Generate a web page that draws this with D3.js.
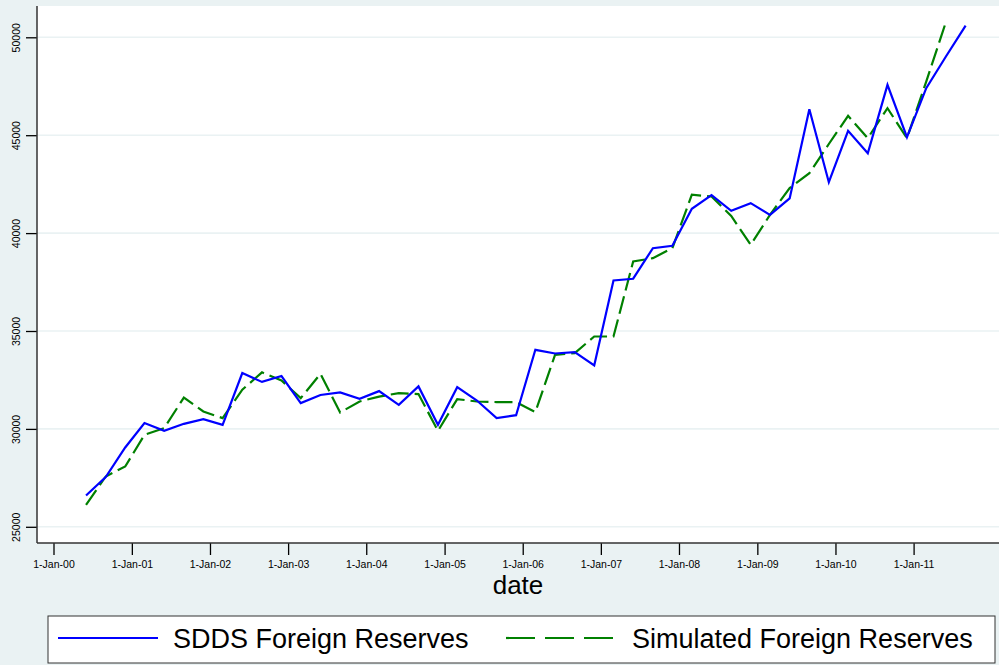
<!DOCTYPE html>
<html>
<head>
<meta charset="utf-8">
<script src="https://cdn.jsdelivr.net/npm/d3@7/dist/d3.min.js"></script>
<style>
  body { margin: 0; background: #eaf2f3; }
  svg { display: block; font-family: "Liberation Sans", Arial, sans-serif; }
</style>
</head>
<body>
<div id="chart"></div>
<script>
// Quarterly observation dates
var dates = ["2000-06-01","2000-09-01","2000-12-01","2001-03-01","2001-06-01","2001-09-01","2001-12-01",
  "2002-03-01","2002-06-01","2002-09-01","2002-12-01","2003-03-01","2003-06-01","2003-09-01","2003-12-01",
  "2004-03-01","2004-06-01","2004-09-01","2004-12-01","2005-03-01","2005-06-01","2005-09-01","2005-12-01",
  "2006-03-01","2006-06-01","2006-09-01","2006-12-01","2007-03-01","2007-06-01","2007-09-01","2007-12-01",
  "2008-03-01","2008-06-01","2008-09-01","2008-12-01","2009-03-01","2009-06-01","2009-09-01","2009-12-01",
  "2010-03-01","2010-06-01","2010-09-01","2010-12-01","2011-03-01","2011-06-01","2011-09-01"];

// SDDS foreign reserves (blue, solid)
var sdds = [26600, 27540, 29050, 30300, 29900, 30260, 30500, 30210, 32850, 32400,
  32700, 31320, 31730, 31860, 31540, 31930, 31230, 32170, 30210, 32130,
  31450, 30550, 30700, 34040, 33850, 33920, 33240, 37580, 37670, 39230,
  39350, 41240, 41940, 41140, 41530, 40930, 41770, 46330, 42600, 45220,
  44080, 47570, 44900, 47400, 49020, 50600];

// Simulated foreign reserves (green, dashed) - one quarter shorter
var simulated = [26120, 27570, 28080, 29700, 30040, 31600, 30890, 30550, 32000, 32890,
  32470, 31570, 32810, 30840, 31400, 31650, 31830, 31780, 29900, 31520,
  31400, 31370, 31370, 30860, 33780, 33870, 34720, 34720, 38550, 38720,
  39230, 41960, 41870, 40880, 39400, 40930, 42300, 43060, 44550, 45990,
  44850, 46380, 44850, 47740, 50780];

var yTicks = [25000, 30000, 35000, 40000, 45000, 50000];
var xTickLabels = ["1-Jan-00","1-Jan-01","1-Jan-02","1-Jan-03","1-Jan-04","1-Jan-05",
  "1-Jan-06","1-Jan-07","1-Jan-08","1-Jan-09","1-Jan-10","1-Jan-11"];
var xTickDates = ["2000-01-01","2001-01-01","2002-01-01","2003-01-01","2004-01-01","2005-01-01",
  "2006-01-01","2007-01-01","2008-01-01","2009-01-01","2010-01-01","2011-01-01"];

var width = 999, height = 665;
var plotLeft = 37, plotRight = 999, plotTop = 6, plotBottom = 543;

var parse = d3.timeParse("%Y-%m-%d");

var svg = d3.select("#chart").append("svg")
  .attr("width", width)
  .attr("height", height);

svg.append("rect")
  .attr("width", width).attr("height", height)
  .attr("fill", "#eaf2f3");

// plot region
svg.append("rect")
  .attr("x", plotLeft).attr("y", plotTop)
  .attr("width", plotRight - plotLeft).attr("height", plotBottom - plotTop)
  .attr("fill", "#ffffff");

var x = d3.scaleTime()
  .domain([parse("2000-01-01"), parse("2011-01-01")])
  .range([53.5, 913.6]);

var y = d3.scaleLinear()
  .domain([25000, 50000])
  .range([526.8, 37.3]);

// gridlines
svg.append("g").selectAll("line")
  .data(yTicks)
  .enter().append("line")
  .attr("x1", plotLeft).attr("x2", plotRight)
  .attr("y1", function(d) { return y(d); })
  .attr("y2", function(d) { return y(d); })
  .attr("stroke", "#eaf2f3")
  .attr("stroke-width", 1.6);

// y axis
var yAxis = svg.append("g")
  .attr("transform", "translate(" + plotLeft + ",0)")
  .call(d3.axisLeft(y).tickValues(yTicks).tickSize(11).tickFormat(d3.format("d")));
yAxis.select(".domain").remove();
yAxis.selectAll(".tick line").attr("stroke", "#000").attr("stroke-width", 1.3);
yAxis.selectAll(".tick text")
  .attr("transform", "rotate(-90)")
  .attr("x", 0).attr("y", -17.5)
  .attr("dy", 0)
  .attr("text-anchor", "middle")
  .attr("fill", "#000")
  .style("font-size", "10.5px")
  .style("font-family", "'Liberation Sans', Arial, sans-serif");

// x axis
var xAxis = svg.append("g")
  .attr("transform", "translate(0," + plotBottom + ")")
  .call(d3.axisBottom(x)
    .tickValues(xTickDates.map(parse))
    .tickSize(12)
    .tickFormat(function(d, i) { return xTickLabels[i]; }));
xAxis.select(".domain").remove();
xAxis.selectAll(".tick line").attr("stroke", "#000").attr("stroke-width", 1.3);
xAxis.selectAll(".tick text")
  .attr("y", 25).attr("dy", 0)
  .attr("fill", "#000")
  .style("font-size", "10.5px")
  .style("font-family", "'Liberation Sans', Arial, sans-serif");

// axis lines
svg.append("line")
  .attr("x1", plotLeft).attr("x2", plotLeft)
  .attr("y1", plotTop).attr("y2", plotBottom)
  .attr("stroke", "#333").attr("stroke-width", 1.5);
svg.append("line")
  .attr("x1", plotLeft).attr("x2", plotRight)
  .attr("y1", plotBottom).attr("y2", plotBottom)
  .attr("stroke", "#333").attr("stroke-width", 1.5);

// x axis title
svg.append("text")
  .attr("x", (plotLeft + plotRight) / 2)
  .attr("y", 594)
  .attr("text-anchor", "middle")
  .style("font-size", "26px")
  .text("date");

// series
var line = d3.line()
  .x(function(d) { return x(d.date); })
  .y(function(d) { return y(d.value); });

function toPoints(vals) {
  return vals.map(function(v, i) { return {date: parse(dates[i]), value: v}; });
}

svg.append("path")
  .datum(toPoints(simulated))
  .attr("d", line)
  .attr("fill", "none")
  .attr("stroke", "#008000")
  .attr("stroke-width", 2.2)
  .attr("stroke-dasharray", "18,6");

svg.append("path")
  .datum(toPoints(sdds))
  .attr("d", line)
  .attr("fill", "none")
  .attr("stroke", "#0000ff")
  .attr("stroke-width", 2.2);

// legend
var legend = svg.append("g");
legend.append("rect")
  .attr("x", 48).attr("y", 616)
  .attr("width", 947).attr("height", 47)
  .attr("fill", "#fff")
  .attr("stroke", "#333")
  .attr("stroke-width", 1);

legend.append("line")
  .attr("x1", 58).attr("x2", 158)
  .attr("y1", 638).attr("y2", 638)
  .attr("stroke", "#0000ff").attr("stroke-width", 2.2);
legend.append("text")
  .attr("x", 173).attr("y", 648)
  .style("font-size", "27px")
  .text("SDDS Foreign Reserves");

legend.append("line")
  .attr("x1", 506).attr("x2", 615)
  .attr("y1", 638).attr("y2", 638)
  .attr("stroke", "#008000").attr("stroke-width", 2.2)
  .attr("stroke-dasharray", "29,10");
legend.append("text")
  .attr("x", 632).attr("y", 648)
  .style("font-size", "27px")
  .text("Simulated Foreign Reserves");
</script>
</body>
</html>
